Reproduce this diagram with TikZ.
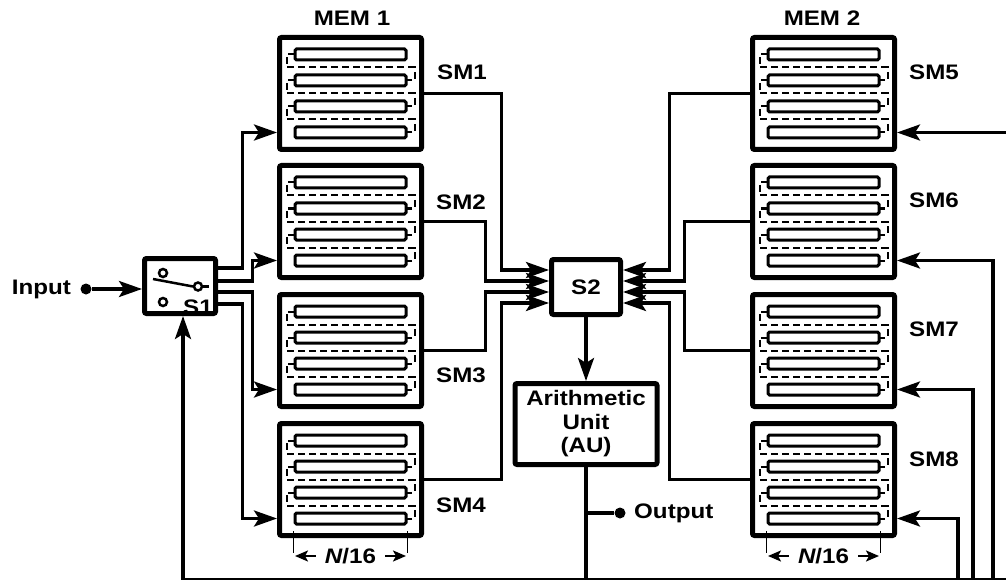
\documentclass[tikz,border=0pt]{standalone}
\usepackage{fontspec}
\setmainfont{Liberation Sans}[FakeStretch=1.15]
\usetikzlibrary{arrows.meta,calc}
\tikzset{
  membox/.style={draw, line width=5pt, minimum width=142pt, minimum height=112pt, inner sep=0pt, rounded corners=2pt, fill=white},
  membar/.style={draw, line width=3pt, fill=white, rounded corners=1.5pt},
  memdash/.style={line width=2pt, dash pattern=on 7pt off 4pt},
  swbox/.style={draw, line width=5pt, inner sep=0pt, rounded corners=2pt, fill=white, font=\fontsize{21}{23.5}\selectfont\bfseries},
  lbl/.style={font=\fontsize{21}{23.5}\selectfont\bfseries, inner sep=0pt},
  conn/.style={line width=3.3pt},
  arr/.style={line width=3.3pt, -{Stealth[length=23pt,width=16pt,inset=5pt]}},
  dimarr/.style={line width=2.2pt, -{Stealth[length=13pt,width=11pt,inset=3pt]}},
  dotn/.style={circle, fill=black, inner sep=0pt, minimum size=11pt},
  swcirc/.style={draw, line width=2.5pt, fill=white, circle, inner sep=0pt, minimum size=8pt}
}
\newcommand\drawmem[3]{%
  \node[membox] (#1) at (#2,#3) {};
  \foreach \k in {0,1,2}{
    \draw[memdash] ($(#1)+(-55.5,-39+26*\k)$) -- ++(-8.5,0) -- ++(0,13) -- ++(128,0) -- ++(0,13) -- ++(-8.5,0);
  }
  \foreach \k in {0,1,2,3}{
    \draw[membar] ($(#1)+(-55.5,-44.5+26*\k)$) rectangle ($(#1)+(55.5,-33.5+26*\k)$);
  }
}
\newcommand\dimlbl[2]{%
  \coordinate (#1tl) at ($(#2)+(-57,62.5)$);
  \coordinate (#1tr) at ($(#2)+(57,62.5)$);
  \draw[line width=1.8pt] ($(#1tl)+(0,-11)$) -- ($(#1tl)+(0,11)$);
  \draw[line width=1.8pt] ($(#1tr)+(0,-11)$) -- ($(#1tr)+(0,11)$);
  \node[lbl] (#1t) at ($(#2)+(0,76.5)$) {{\itshape N}/16};
  \draw[dimarr] ($(#1t.west)+(-9,0)$) -- ($(#1tl)+(1.5,14)$);
  \draw[dimarr] ($(#1t.east)+(9,0)$) -- ($(#1tr)+(-1.5,14)$);
}
\begin{document}
\begin{tikzpicture}[x=1pt,y=-1pt]
\useasboundingbox (0,0) rectangle (1006,580);
\clip (0,0) rectangle (1006,580);

% memories
\drawmem{sm1}{350.5}{93.5}
\drawmem{sm2}{350.5}{221.5}
\drawmem{sm3}{350.5}{350.5}
\drawmem{sm4}{350.5}{479.5}
\drawmem{sm5}{823.5}{93.5}
\drawmem{sm6}{823.5}{221.5}
\drawmem{sm7}{823.5}{350.5}
\drawmem{sm8}{823.5}{479.5}

\node[lbl] (mem1) at (352,18) {MEM 1};
\node[lbl] (mem2) at (822,18) {MEM 2};

\node[lbl] (lsm1) at (462,72) {SM1};
\node[lbl] (lsm2) at (461,202) {SM2};
\node[lbl] (lsm3) at (461,375) {SM3};
\node[lbl] (lsm4) at (461,505) {SM4};
\node[lbl] (lsm5) at (934,72) {SM5};
\node[lbl] (lsm6) at (934,200.5) {SM6};
\node[lbl] (lsm7) at (934,329.5) {SM7};
\node[lbl] (lsm8) at (934,459.5) {SM8};

\dimlbl{d1}{sm4}
\dimlbl{d2}{sm8}

% switch S1
\node[swbox, minimum width=71pt, minimum height=55pt] (s1) at (180,286) {};
\draw[line width=2.5pt] ($(s1)+(-27,-7)$) -- ($(s1)+(13,0.5)$);
\draw[line width=2.5pt] ($(s1)+(20,0.5)$) -- ($(s1)+(29,0.5)$);
\node[swcirc] (c1) at ($(s1)+(-17,-13)$) {};
\node[swcirc] (c2) at ($(s1)+(-17,16)$) {};
\node[swcirc] (c3) at ($(s1)+(18,0.5)$) {};
\node[lbl] (s1l) at ($(s1)+(18,21)$) {S1};

% S2 and AU
\node[swbox, minimum width=69pt, minimum height=55pt] (s2) at (586,287) {S2};
\node[swbox, minimum width=142pt, minimum height=81pt, align=center] (au) at (586,424) {Arithmetic\\Unit\\(AU)};

% input
\node[lbl, anchor=east] (inl) at (71,289) {Input};
\node[dotn] (idot) at (86,289) {};
\draw[arr] (idot) -- (s1.west |- idot);

% S1 to memories
\coordinate (o1) at ($(s1.east)+(0,-18)$);
\coordinate (o2) at ($(s1.east)+(0,-5)$);
\coordinate (o3) at ($(s1.east)+(0,6)$);
\coordinate (o4) at ($(s1.east)+(0,18)$);
\coordinate (i1) at ($(sm1.west)+(0,39)$);
\coordinate (i2) at ($(sm2.west)+(0,39)$);
\coordinate (i3) at ($(sm3.west)+(0,39)$);
\coordinate (i4) at ($(sm4.west)+(0,39)$);
\draw[arr] (o1) -- ++(24.5,0) |- (i1);
\draw[arr] (o2) -- ++(34.5,0) |- (i2);
\draw[arr] (o3) -- ++(34.5,0) |- (i3);
\draw[arr] (o4) -- ++(24.5,0) |- (i4);

% memories to S2
\coordinate (w1) at ($(s2.west)+(0,-17)$);
\coordinate (w2) at ($(s2.west)+(0,-6)$);
\coordinate (w3) at ($(s2.west)+(0,5)$);
\coordinate (w4) at ($(s2.west)+(0,16)$);
\coordinate (e1) at ($(s2.east)+(0,-17)$);
\coordinate (e2) at ($(s2.east)+(0,-6)$);
\coordinate (e3) at ($(s2.east)+(0,5)$);
\coordinate (e4) at ($(s2.east)+(0,16)$);
\draw[arr] (sm1.east) -- ++(77.5,0) |- (w1);
\draw[arr] (sm2.east) -- ++(61.5,0) |- (w2);
\draw[arr] (sm3.east) -- ++(61.5,0) |- (w3);
\draw[arr] (sm4.east) -- ++(77.5,0) |- (w4);
\draw[arr] (sm5.west) -- ++(-80.5,0) |- (e1);
\draw[arr] (sm6.west) -- ++(-65.5,0) |- (e2);
\draw[arr] (sm7.west) -- ++(-65.5,0) |- (e3);
\draw[arr] (sm8.west) -- ++(-80.5,0) |- (e4);

% S2 to AU
\draw[arr] (s2.south) -- (au.north);

% output and bus
\coordinate (busL) at (183,580);
\coordinate (busR) at (1012,580);
\coordinate (outy) at (0,513);
\node[dotn] (odot) at (620,513) {};
\node[lbl, anchor=west] (outl) at (634,513) {Output};
\draw[conn] (au.south) -- (au.south |- busL);
\draw[conn] (au.south |- outy) -- (odot);
\draw[conn] (busL) -- (busR);
\draw[arr] (busL) -- (busL |- s1.south);

% feedback to right memories
\coordinate (f5) at (1012,132.5);
\coordinate (f6) at (993,580);
\coordinate (f7) at (973,580);
\coordinate (f8) at (958,580);
\coordinate (r5) at ($(sm5.east)+(0,39)$);
\coordinate (r6) at ($(sm6.east)+(0,39)$);
\coordinate (r7) at ($(sm7.east)+(0,39)$);
\coordinate (r8) at ($(sm8.east)+(0,39)$);
\draw[arr] (f5) -- (r5);
\draw[arr] (f6) |- (r6);
\draw[arr] (f7) |- (r7);
\draw[arr] (f8) |- (r8);
\end{tikzpicture}
\end{document}
